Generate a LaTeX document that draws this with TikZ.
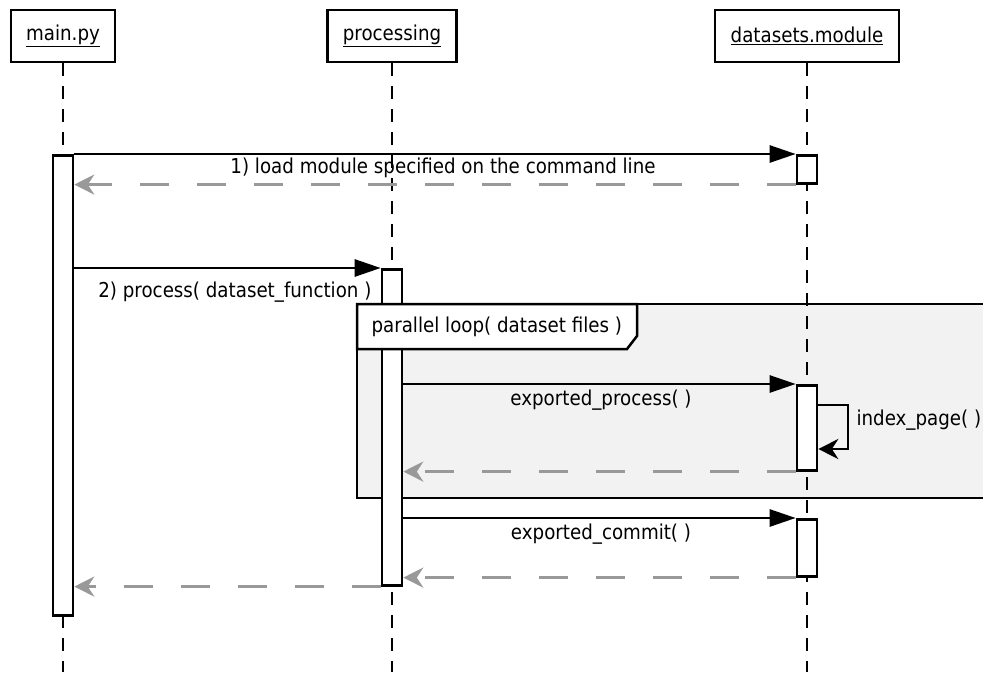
\documentclass[tikz,border=0pt]{standalone}
\usepackage{fontspec}
\setmainfont{DejaVu Sans}[FakeStretch=0.89]
\usetikzlibrary{positioning, arrows.meta}

\begin{document}
\begin{tikzpicture}[x=1pt, y=-1pt,
    actor/.style={draw, line width=2.8pt, fill=white, minimum height=52pt,
        inner sep=0pt, font=\fontsize{20.5}{24}\selectfont},
    lifeline/.style={line width=1.2pt, dash pattern=on 13pt off 10pt},
    activation/.style={draw, line width=2.6pt, fill=white, inner sep=0pt,
        minimum width=20pt, anchor=north},
    call/.style={line width=2.7pt, -{Triangle[length=26pt, width=17pt]}},
    reply/.style={line width=2.7pt, gray!80, dash pattern=on 29pt off 28pt,
        -{Stealth[length=20pt, width=20pt]}},
    msg/.style={font=\fontsize{20.5}{24}\selectfont}
]
    \useasboundingbox (0,0) rectangle (983,675);

    % loop frame behind everything
    \draw[line width=2.5pt, fill=gray!10] (357,304) rectangle (995,498);

    % participants
    \node[actor, minimum width=104pt] (main) at (63,36) {\underline{main.py}};
    \node[actor, minimum width=129pt] (proc) at (392,36) {\underline{processing}};
    \node[actor, minimum width=184pt] (mod) at (807,36) {\underline{datasets.module}};

    % lifelines
    \coordinate (mainend) at (63,672);
    \coordinate (procend) at (392,672);
    \coordinate (modend) at (807,672);
    \draw[lifeline] (main.south) -- (mainend);
    \draw[lifeline] (proc.south) -- (procend);
    \draw[lifeline] (mod.south) -- (modend);

    % activations
    \node[activation, minimum height=460pt] (mainact) at (63,154) {};
    \node[activation, minimum height=28pt] (modact1) at (807,154) {};
    \node[activation, minimum height=316pt] (procact) at (392,268) {};
    \node[activation, minimum height=85pt] (modact2) at (807,384) {};
    \node[activation, minimum height=57pt] (modact3) at (807,518) {};

    % loop label on top
    \draw[line width=2.5pt, fill=white] (357,304) -- (637,304) -- (637,336)
        -- (627,349) -- (357,349) -- cycle;
    \node[msg, anchor=west] (looplbl) at (368,327) {parallel loop( dataset files )};

    % 1) load module
    \draw[call] (mainact.north east) -- (modact1.north west);
    \node[msg] (m1) at (443,168) {1) load module specified on the command line};
    \draw[reply] (modact1.south west) -- (mainact.east |- modact1.south);

    % 2) process
    \draw[call] (mainact.east |- procact.north) -- (procact.north west);
    \node[msg, anchor=east] (m2) at (375,292) {2) process( dataset\_function )};

    % exported process + index page
    \draw[call] (procact.east |- modact2.north) -- (modact2.north west);
    \node[msg] (m3) at (601,400) {exported\_process( )};
    \coordinate (selfa) at (848,405);
    \coordinate (selfb) at (848,449);
    \draw[line width=2.7pt, -{Stealth[length=20pt, width=20pt]}]
        (modact2.east |- selfa) -- (selfa) -- (selfb) -- (modact2.east |- selfb);
    \node[msg, anchor=west] (m4) at (853,420) {index\_page( )};
    \draw[reply] (modact2.south west) -- (procact.east |- modact2.south);

    % exported commit
    \draw[call] (procact.east |- modact3.north) -- (modact3.north west);
    \node[msg] (m5) at (601,534) {exported\_commit( )};
    \draw[reply] (modact3.south west) -- (procact.east |- modact3.south);

    % back to main
    \draw[reply] (procact.south west) -- (mainact.east |- procact.south);
\end{tikzpicture}
\end{document}
